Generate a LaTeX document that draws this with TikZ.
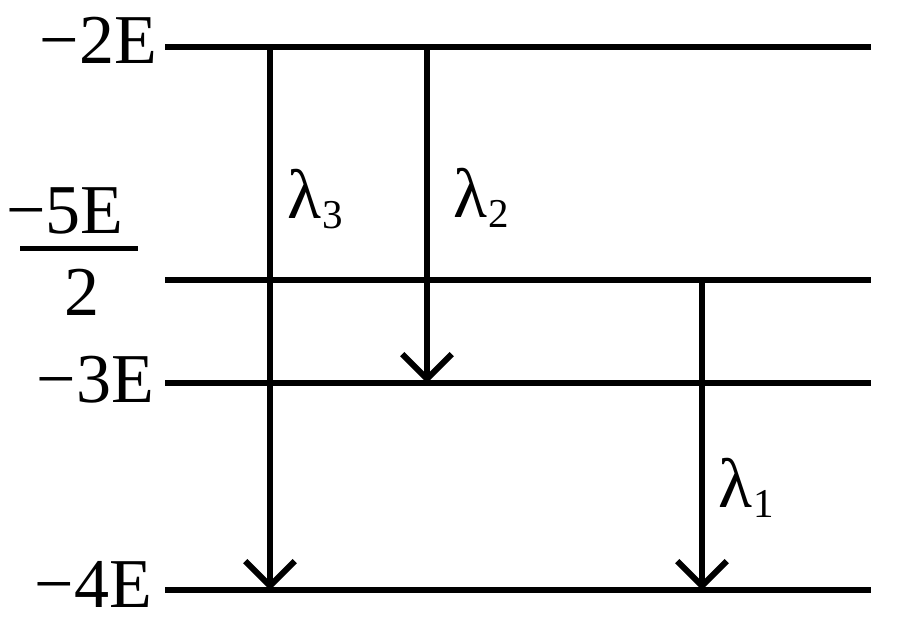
\documentclass[tikz,border=0pt]{standalone}
\usepackage{fontspec}
\setmainfont{Liberation Serif}
\usetikzlibrary{arrows.meta}
\newcommand{\lam}[1]{λ\kern1pt\raisebox{-10pt}{\fontsize{41}{41}\selectfont #1}}
\begin{document}
\begin{tikzpicture}[x=1pt,y=-1pt,
  level/.style={line width=6.5pt},
  trans/.style={line width=6pt,-{Straight Barb[angle=90:35pt,line width=6pt]}},
  lbl/.style={inner sep=0pt,font=\fontsize{70}{72}\selectfont},
]
\useasboundingbox (0,0) rectangle (900,630);
% level end points
\coordinate (a1) at (165,47);  \coordinate (a2) at (871,47);
\coordinate (b1) at (165,280); \coordinate (b2) at (871,280);
\coordinate (c1) at (165,383); \coordinate (c2) at (871,383);
\coordinate (d1) at (165,590); \coordinate (d2) at (871,590);
\draw[level] (a1) -- (a2);
\draw[level] (b1) -- (b2);
\draw[level] (c1) -- (c2);
\draw[level] (d1) -- (d2);
% transitions
\coordinate (t3s) at (270,47);  \coordinate (t3e) at (270,590);
\coordinate (t2s) at (427,47);  \coordinate (t2e) at (427,383);
\coordinate (t1s) at (702,280); \coordinate (t1e) at (702,590);
\draw[trans] (t3s) -- (t3e);
\draw[trans] (t2s) -- (t2e);
\draw[trans] (t1s) -- (t1e);
% energy labels
\node[lbl,anchor=base east] (la) at (157,63) {−2E};
\node[lbl,anchor=base west] (lbn) at (6,233) {−5E};
\draw[line width=5pt] (20,248) -- (138,248);
\node[lbl,anchor=base] (lbd) at (82,315) {2};
\node[lbl,anchor=base east] (lc) at (154,402) {−3E};
\node[lbl,anchor=base east] (ld) at (152,607) {−4E};
% wavelength labels
\node[lbl,anchor=base west] (l3) at (287,218) {\lam{3}};
\node[lbl,anchor=base west] (l2) at (453,217) {\lam{2}};
\node[lbl,anchor=base west] (l1) at (718,507) {\lam{1}};
\end{tikzpicture}
\end{document}
